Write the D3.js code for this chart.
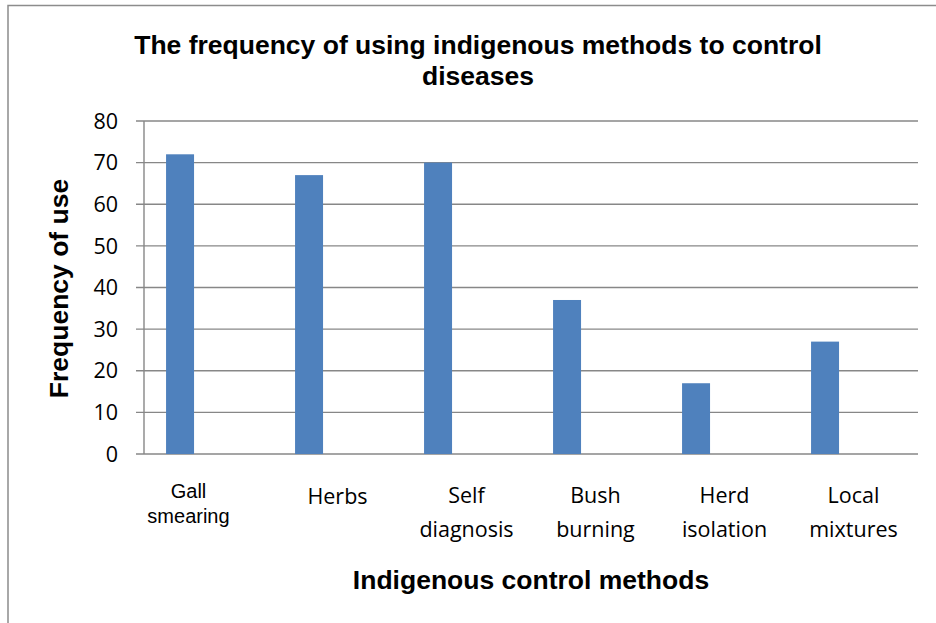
<!DOCTYPE html>
<html>
<head>
<meta charset="utf-8">
<script src="https://cdn.jsdelivr.net/npm/d3@7"></script>
<style>
  body { margin: 0; background: #fff; }
</style>
</head>
<body>
<script>
// data
var methods = ['Gall smearing', 'Herbs', 'Self diagnosis', 'Bush burning', 'Herd isolation', 'Local mixtures'];
var frequency = [72, 67, 70, 37, 17, 27];
var yTicks = [0, 10, 20, 30, 40, 50, 60, 70, 80];

var W = 936, H = 623;
var plotL = 144, plotR = 918, plotT = 121, plotB = 454;

var svg = d3.select('body').append('svg')
    .attr('width', W)
    .attr('height', H);

// outer frame (cut off on the right and bottom)
svg.append('rect')
    .attr('x', 8)
    .attr('y', 5.5)
    .attr('width', 1000)
    .attr('height', 700)
    .attr('fill', 'none')
    .attr('stroke', '#8c8c8c')
    .attr('stroke-width', 1.5);

var x = d3.scaleBand().domain(methods).range([plotL, plotR]);
var y = d3.scaleLinear().domain([0, 80]).range([plotB, plotT]);

// gridlines
svg.append('g').selectAll('line')
    .data(yTicks)
    .enter().append('line')
    .attr('x1', plotL - 8)
    .attr('x2', plotR)
    .attr('y1', function(d) { return y(d); })
    .attr('y2', function(d) { return y(d); })
    .attr('stroke', '#878787')
    .attr('stroke-width', 1.4);

// y axis line
svg.append('line')
    .attr('x1', plotL).attr('x2', plotL)
    .attr('y1', y(80)).attr('y2', y(0))
    .attr('stroke', '#878787')
    .attr('stroke-width', 1.4);

// tick labels
svg.append('g').selectAll('text')
    .data(yTicks)
    .enter().append('text')
    .attr('x', 118)
    .attr('y', function(d) { return y(d); })
    .attr('dy', '0.36em')
    .attr('text-anchor', 'end')
    .attr('font-family', 'Open Sans, sans-serif')
    .attr('font-size', 21.5)
    .attr('fill', '#000')
    .text(function(d) { return d; });

// bars (sit in the left part of each category)
var bw = x.bandwidth();
svg.append('g').selectAll('rect')
    .data(methods)
    .enter().append('rect')
    .attr('x', function(d) { return x(d) + bw * 0.171; })
    .attr('y', function(d, i) { return y(frequency[i]); })
    .attr('width', bw * 0.217)
    .attr('height', function(d, i) { return y(0) - y(frequency[i]); })
    .attr('fill', '#4f81bd');

// category labels, two lines each
methods.forEach(function(m, i) {
    var words = m.split(' ');
    var first = (i === 0);
    var t = svg.append('text')
        .attr('text-anchor', 'middle')
        .attr('font-family', first ? 'Liberation Sans, Arial, sans-serif' : 'Open Sans, sans-serif')
        .attr('font-size', first ? 20 : 21.5)
        .attr('fill', '#000');
    var cx = x(m) + bw / 2 - (first ? 20 : 0);
    if (words.length === 1) {
        t.append('tspan').attr('x', cx).attr('y', 504).text(words[0]);
    } else {
        t.append('tspan').attr('x', cx).attr('y', first ? 498 : 503).text(words[0]);
        t.append('tspan').attr('x', cx).attr('y', first ? 523 : 537).text(words[1]);
    }
});

// title
var title = svg.append('text')
    .attr('text-anchor', 'middle')
    .attr('font-family', 'Liberation Sans, Arial, sans-serif')
    .attr('font-weight', 'bold')
    .attr('font-size', 26.5)
    .attr('fill', '#000');
title.append('tspan').attr('x', 478).attr('y', 54)
    .text('The frequency of using indigenous methods to control');
title.append('tspan').attr('x', 478).attr('y', 85).text('diseases');

// axis titles
svg.append('text')
    .attr('x', (plotL + plotR) / 2)
    .attr('y', 589)
    .attr('text-anchor', 'middle')
    .attr('font-family', 'Liberation Sans, Arial, sans-serif')
    .attr('font-weight', 'bold')
    .attr('font-size', 26.5)
    .text('Indigenous control methods');

svg.append('text')
    .attr('transform', 'translate(68,' + ((plotT + plotB) / 2 + 1) + ') rotate(-90)')
    .attr('text-anchor', 'middle')
    .attr('font-family', 'Liberation Sans, Arial, sans-serif')
    .attr('font-weight', 'bold')
    .attr('font-size', 26.5)
    .text('Frequency of use');
</script>
</body>
</html>
